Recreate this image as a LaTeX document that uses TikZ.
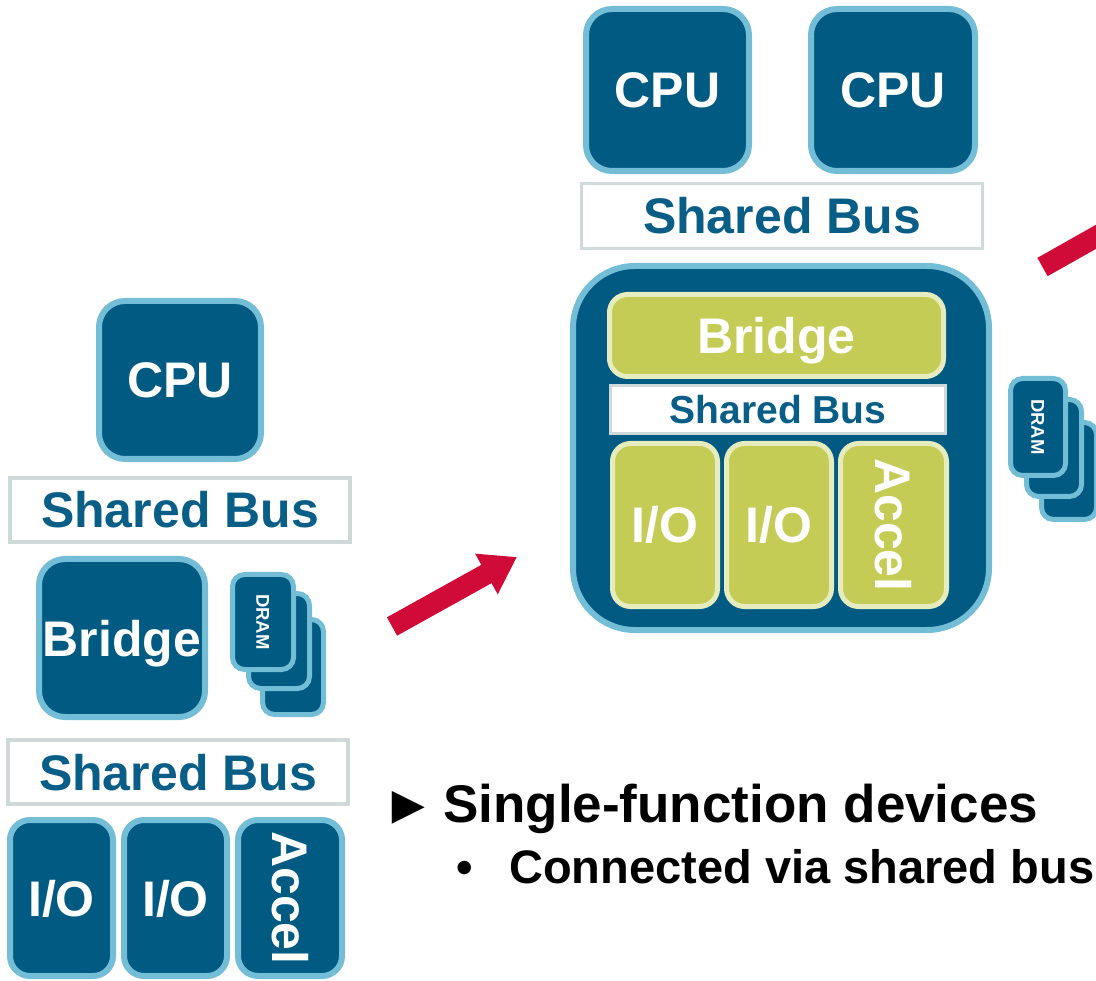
\documentclass[tikz,border=0pt]{standalone}
\usepackage{fontspec}
\setmainfont{Liberation Sans}
\usetikzlibrary{arrows.meta}

\definecolor{coreblue}{RGB}{1,90,130}
\definecolor{edgeblue}{RGB}{115,189,214}
\definecolor{olvfill}{RGB}{197,204,85}
\definecolor{olvedge}{RGB}{230,236,190}
\definecolor{busgray}{RGB}{208,217,217}
\definecolor{bustext}{RGB}{8,94,134}
\definecolor{alert}{RGB}{209,11,56}

\newcommand\setfs[1]{\fontsize{#1}{#1}\selectfont\bfseries}

\tikzset{
  x=1pt, y=-1pt,
  big/.style={font=\setfs{50}, text height=36pt, text depth=0pt},
  blk/.style={draw=edgeblue, fill=coreblue, line width=6pt, rounded corners=26pt,
    text=white, inner sep=0pt, big},
  hub/.style={draw=edgeblue, fill=coreblue, line width=6pt, rounded corners=62pt, inner sep=0pt},
  olv/.style={draw=olvedge, fill=olvfill, line width=5pt, rounded corners=18pt,
    text=white, inner sep=0pt, big},
  bus/.style={draw=busgray, fill=white, line width=3.5pt, text=bustext, inner sep=0pt, big},
  smallbus/.style={bus, font=\setfs{39}, text height=28pt},
  dram/.style={draw=edgeblue, fill=coreblue, line width=5pt, rounded corners=12pt,
    text=white, inner sep=0pt, font=\setfs{18.5}, text height=13.3pt, text depth=0pt},
  flow/.style={draw=alert, line width=21pt, -{Triangle[width=44pt,length=35pt]}},
  plain/.style={inner sep=0pt, anchor=base west, text=black}
}

\begin{document}
\begin{tikzpicture}
\useasboundingbox (0,0) rectangle (1096,981);
\clip (0,0) rectangle (1096,981);

% ---------- left: single bus system ----------
\node[blk, minimum width=162pt, minimum height=158pt] (cpuL) at (180,380) {CPU};
\node[bus, minimum width=340pt, minimum height=64pt] (busL1) at (180,510) {Shared Bus};
\node[blk, minimum width=166pt, minimum height=158pt] (bridgeL) at (122,638) {Bridge};

\node[dram, minimum width=61pt, minimum height=95pt] (dramL3) at (293,667) {};
\node[dram, minimum width=61pt, minimum height=95pt] (dramL2) at (279,641) {};
\node[dram, minimum width=95pt, minimum height=61pt, rotate=-90] (dramL1) at (263,622) {DRAM};

\node[bus, minimum width=340pt, minimum height=64pt] (busL2) at (178,772) {Shared Bus};

\node[blk, rounded corners=20pt, minimum width=103pt, minimum height=156pt] (ioL1) at (61.5,898) {I/O};
\node[blk, rounded corners=20pt, minimum width=103pt, minimum height=156pt] (ioL2) at (175.5,898) {I/O};
\node[blk, rounded corners=20pt, minimum width=156pt, minimum height=104pt, rotate=-90] (accL) at (290,898) {Accel};

% ---------- middle: integrated hub ----------
\node[blk, minimum width=163pt, minimum height=162pt] (cpuM1) at (667.5,90) {CPU};
\node[blk, minimum width=164pt, minimum height=162pt] (cpuM2) at (893,90) {CPU};
\node[bus, minimum width=401pt, minimum height=65pt] (busM1) at (782,216) {Shared Bus};

\node[hub, minimum width=416pt, minimum height=364pt] (hubM) at (781,448) {};
\node[olv, minimum width=334pt, minimum height=82pt] (bridgeM) at (776.5,335.5) {Bridge};
\node[smallbus, minimum width=335pt, minimum height=48pt] (busM2) at (778,409.5) {Shared Bus};
\node[olv, minimum width=105pt, minimum height=163pt] (ioM1) at (665,525) {I/O};
\node[olv, minimum width=105pt, minimum height=163pt] (ioM2) at (779,525) {I/O};
\node[olv, minimum width=163pt, minimum height=106pt, rotate=-90] (accM) at (893.5,525) {Accel};

\node[dram, minimum width=55pt, minimum height=97pt] (dramR3) at (1069,471) {};
\node[dram, minimum width=55pt, minimum height=97pt] (dramR2) at (1054,448) {};
\node[dram, minimum width=97pt, minimum height=55pt, rotate=-90] (dramR1) at (1038,427) {DRAM};

% ---------- progression arrows ----------
\coordinate (a1s) at (392,626.5);
\coordinate (a1e) at (517,557);
\draw[flow] (a1s) -- (a1e);
\coordinate (a2s) at (1042.5,267);
\coordinate (a2e) at (1195,181);
\draw[flow] (a2s) -- (a2e);

% ---------- caption ----------
\node[plain, font=\setfs{55}] (tri) at (381,823) {►};
\node[plain, font=\setfs{53}] (head) at (443,822) {Single-function devices};
\node[plain, font=\setfs{47}] (dot) at (456,883) {•};
\node[plain, font=\setfs{47}] (sub) at (509,883) {Connected via shared bus};
\end{tikzpicture}
\end{document}
